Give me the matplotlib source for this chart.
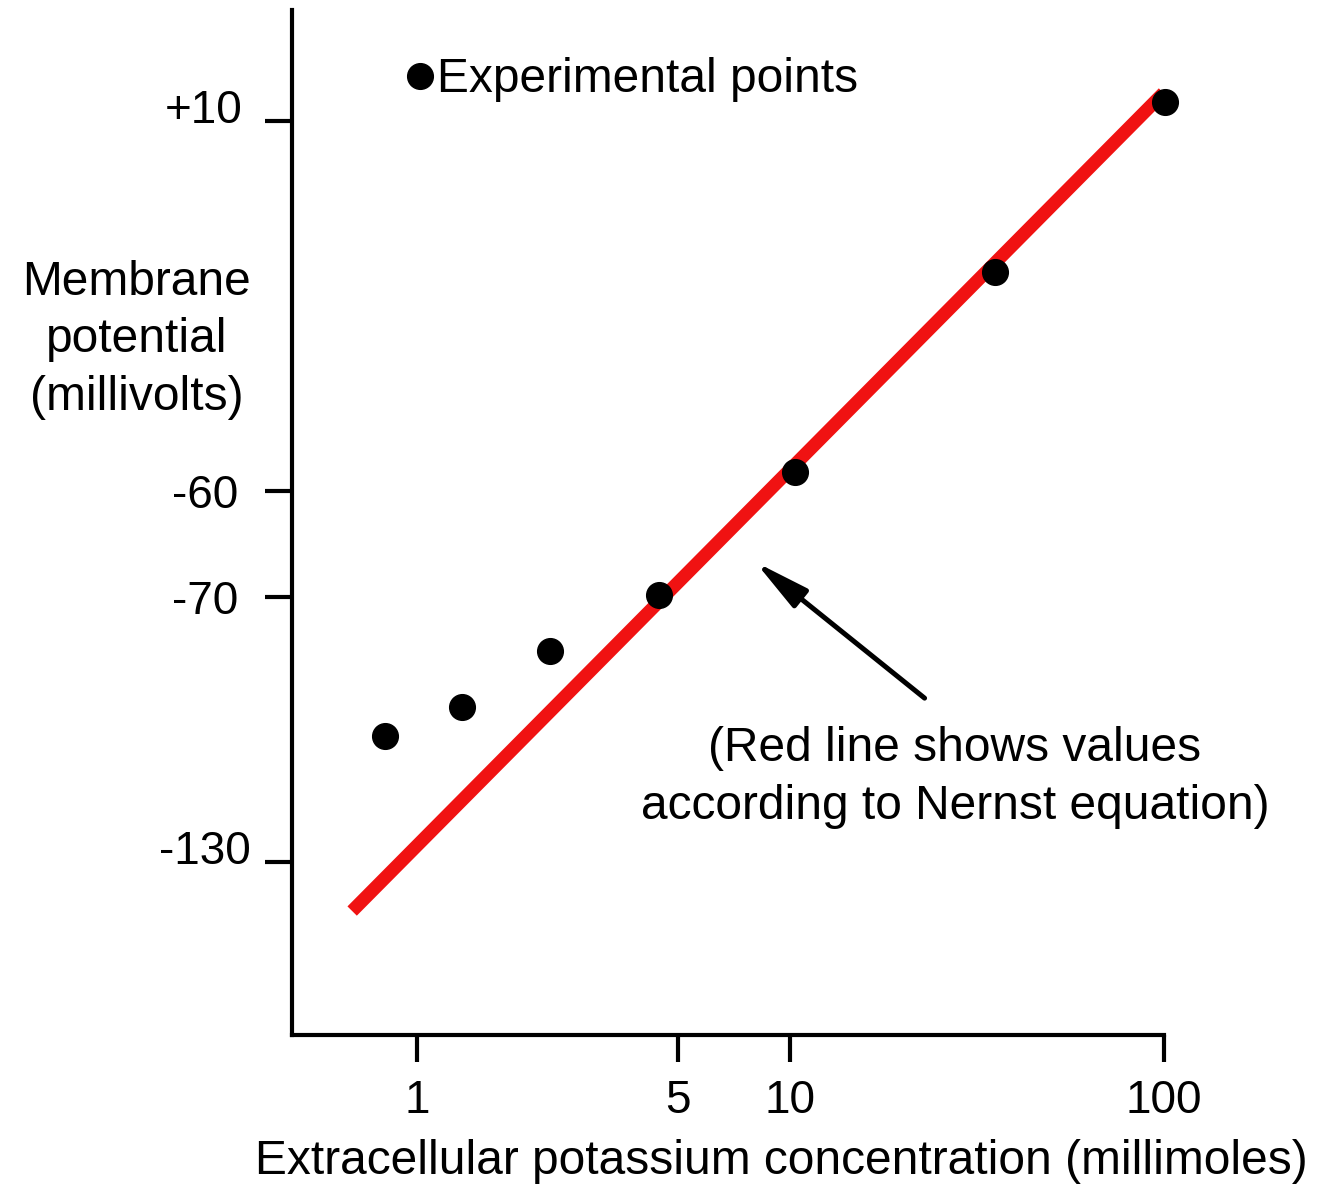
import numpy as np
import matplotlib
matplotlib.use("Agg")
import matplotlib.pyplot as plt
from matplotlib.ticker import NullLocator, FixedLocator
from matplotlib.lines import Line2D
from matplotlib.transforms import ScaledTranslation

plt.rcParams['font.family'] = ['Liberation Sans', 'DejaVu Sans']

# ---- data ----
conc_points = [0.82, 1.32, 2.27, 4.45, 10.3, 35.4, 101.0]
potential_points = [-101.5, -94.9, -82.2, -69.8, -56.4, -18.6, 13.6]
nernst_conc = [0.67, 100.0]
nernst_potential = [-141.1, 15.3]
x_ticks = [1, 5, 10, 100]
x_tick_labels = ['1', '5', '10', '100']
y_ticks = [10, -60, -70, -130]
y_tick_labels = ['+10', '-60', '-70', '-130']
arrow_tip = (8.06, -66.7)
arrow_tail = (22.9, -92.9)

# ---- schematic (non-uniform) potential axis ----
knot_v = np.array([-130.0, -70.0, -60.0, 10.0])
knot_h = np.array([325.0, 590.0, 696.0, 1066.0])
s_lo = (knot_h[1] - knot_h[0]) / (knot_v[1] - knot_v[0])
s_hi = (knot_h[3] - knot_h[2]) / (knot_v[3] - knot_v[2])


def fwd(v):
    v = np.asarray(v, dtype=float)
    out = np.interp(v, knot_v, knot_h)
    out = np.where(v < knot_v[0], knot_h[0] + (v - knot_v[0]) * s_lo, out)
    out = np.where(v > knot_v[-1], knot_h[-1] + (v - knot_v[-1]) * s_hi, out)
    return out


def inv(h):
    h = np.asarray(h, dtype=float)
    out = np.interp(h, knot_h, knot_v)
    out = np.where(h < knot_h[0], knot_v[0] + (h - knot_h[0]) / s_lo, out)
    out = np.where(h > knot_h[-1], knot_v[-1] + (h - knot_h[-1]) / s_hi, out)
    return out


W, H = 1317, 1187
fig = plt.figure(figsize=(W / 100, H / 100), dpi=100)
ax = fig.add_axes([292 / W, 152 / H, 872 / W, 1025 / H])

ax.set_xscale('log')
ax.set_yscale('function', functions=(fwd, inv))
ax.set_xlim(0.4623, 100.3)
ax.set_ylim(float(inv(152)), float(inv(1177)))

red = '#f01212'
ax.plot(nernst_conc, nernst_potential, color=red, lw=9.5, solid_capstyle='butt', zorder=2)
ax.plot(conc_points, potential_points, 'o', color='black', markersize=18.5,
        zorder=3, clip_on=False)

# axes styling
for s in ['top', 'right']:
    ax.spines[s].set_visible(False)
for s in ['left', 'bottom']:
    ax.spines[s].set_linewidth(3)

ax.xaxis.set_major_locator(FixedLocator(x_ticks))
ax.xaxis.set_minor_locator(NullLocator())
ax.set_xticklabels(x_tick_labels)
ax.yaxis.set_major_locator(FixedLocator(y_ticks))
ax.yaxis.set_minor_locator(NullLocator())
ax.set_yticklabels(y_tick_labels)
ax.tick_params(axis='both', which='major', direction='out', length=19.5, width=3,
               labelsize=33, color='black')
ax.tick_params(axis='y', pad=16)
ax.tick_params(axis='x', pad=12)

# raise the +10 and -130 labels slightly as in the reference
for lab in ax.get_yticklabels():
    if lab.get_text() == '+10':
        lab.set_transform(lab.get_transform() +
                          ScaledTranslation(0, 11 / 72, fig.dpi_scale_trans))
    elif lab.get_text() == '-130':
        lab.set_transform(lab.get_transform() +
                          ScaledTranslation(6 / 72, 11 / 72, fig.dpi_scale_trans))
    else:
        lab.set_transform(lab.get_transform() +
                          ScaledTranslation(-3 / 72, 0, fig.dpi_scale_trans))

ax.set_xlabel('Extracellular potassium concentration (millimoles)', fontsize=34.5)
ax.xaxis.set_label_coords((781 - 292) / 872, (1035 - 1139) / 1025)
ax.set_ylabel('Membrane\npotential\n(millivolts)', fontsize=34.5, rotation=0,
              ha='center', va='center', multialignment='center', linespacing=1.36)
ax.yaxis.set_label_coords((137 - 292) / 872, (1035 - 340) / 1025)

# legend
handle = Line2D([], [], marker='o', linestyle='none', color='black', markersize=18.5)
leg = ax.legend([handle], ['Experimental points'], loc='center left',
                bbox_to_anchor=((407 - 292) / 872, (1035 - 80) / 1025),
                frameon=False, fontsize=34.5, handlelength=0.55,
                handletextpad=0.08, borderpad=0, borderaxespad=0)

# arrow + note
ax.annotate('', xy=arrow_tip, xytext=arrow_tail,
            arrowprops=dict(arrowstyle='-|>,head_length=3.3,head_width=0.7',
                            mutation_scale=10, lw=3.6, color='black',
                            shrinkA=0, shrinkB=0))
ax.text((955 - 292) / 872, (1035 - 777.5) / 1025,
        '(Red line shows values\naccording to Nernst equation)',
        transform=ax.transAxes, fontsize=34.5, ha='center', va='center',
        multialignment='center', linespacing=1.36)

fig.savefig('out.png', dpi=100)
